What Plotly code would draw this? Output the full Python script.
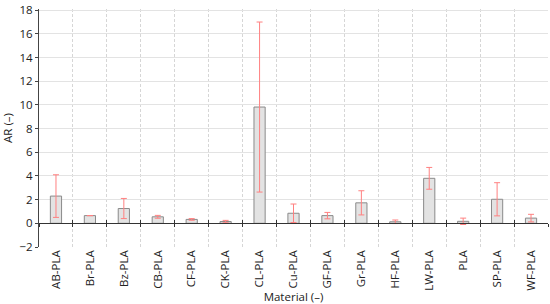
import plotly.graph_objects as go

materials = ["AB-PLA", "Br-PLA", "Bz-PLA", "CB-PLA", "CF-PLA", "CK-PLA", "CL-PLA", "Cu-PLA",
             "GF-PLA", "Gr-PLA", "HF-PLA", "LW-PLA", "PLA", "SP-PLA", "WF-PLA"]
ar_mean = [2.3, 0.65, 1.25, 0.55, 0.33, 0.15, 9.82, 0.85, 0.65, 1.73, 0.13, 3.8, 0.17, 2.03, 0.44]
ar_err = [1.8, 0.0, 0.85, 0.12, 0.07, 0.1, 7.18, 0.78, 0.27, 1.02, 0.15, 0.92, 0.27, 1.4, 0.32]
y_min, y_max, y_step = -2, 18, 2

font_family = "Open Sans, DejaVu Sans, sans-serif"

fig = go.Figure()
fig.add_trace(go.Bar(
    x=materials, y=ar_mean, width=0.33,
    marker=dict(color="#e3e3e3", line=dict(color="#8a8a8a", width=1)),
    error_y=dict(type="data", array=ar_err, visible=True, color="#ff8080", thickness=1, width=3),
    showlegend=False,
))
# helper traces to create overlay axes for the zero-line tick marks
for ax in ["x2", "x3"]:
    fig.add_trace(go.Scatter(x=materials, y=[0] * len(materials), xaxis=ax, yaxis="y",
                             mode="markers", marker=dict(opacity=0),
                             showlegend=False, hoverinfo="skip"))

common_cat = dict(type="category", categoryorder="array", categoryarray=materials,
                  range=[-0.5, len(materials) - 0.5])

fig.update_layout(
    width=550, height=304,
    margin=dict(l=39, r=2, t=9, b=57, autoexpand=False),
    paper_bgcolor="white", plot_bgcolor="white",
    font=dict(family=font_family, size=11, color="#333333"),
    xaxis=dict(
        **common_cat,
        tickson="boundaries", ticks="", showline=False,
        showgrid=True, gridcolor="#d6d6d6", griddash="3px,2px", gridwidth=1,
        tickangle=-90, tickfont=dict(size=11.5, color="#222222"),
        title=dict(text="Material (–)", font=dict(size=11.5, color="#222222"), standoff=4),
        zeroline=False,
    ),
    xaxis2=dict(
        **common_cat, overlaying="x", anchor="free", position=0.1,
        tickson="boundaries", ticks="outside", ticklen=3, tickcolor="#333333",
        showline=True, linecolor="#333333", linewidth=1.2,
        showticklabels=False, showgrid=False, zeroline=False,
    ),
    xaxis3=dict(
        **common_cat, overlaying="x", anchor="free", position=0.1,
        tickson="boundaries", ticks="inside", ticklen=3, tickcolor="#333333",
        showline=False, showticklabels=False, showgrid=False, zeroline=False,
    ),
    yaxis=dict(
        range=[y_min, y_max + 0.1], autorange=False, tickmode="linear", tick0=y_min, dtick=y_step,
        showgrid=True, gridcolor="#e3e3e3", gridwidth=1,
        showline=True, linecolor="#444444", linewidth=1.2, ticks="outside", ticklen=3,
        tickcolor="#444444", zeroline=False,
        tickfont=dict(size=11.5, color="#222222"),
        title=dict(text="AR (–)", font=dict(size=11.5, color="#222222"), standoff=6),
    ),
    bargap=0.67,
)

fig.write_html("out.html")
